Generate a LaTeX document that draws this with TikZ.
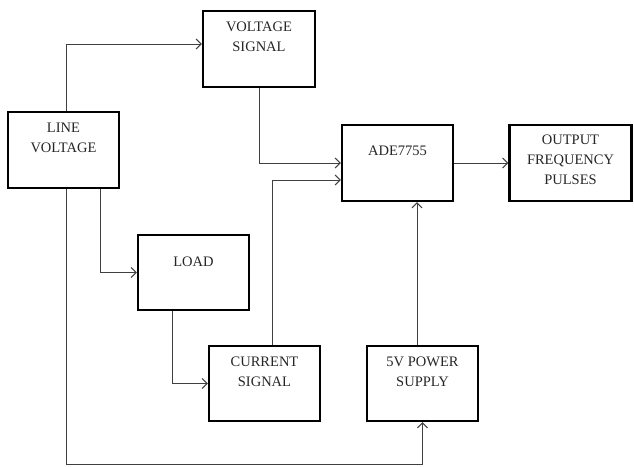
\documentclass[tikz,border=0pt]{standalone}
\usepackage{fontspec}
\setmainfont{Liberation Serif}
\usetikzlibrary{arrows.meta,positioning}
\begin{document}
\begin{tikzpicture}[x=1pt,y=-1pt,
  blk/.style={draw=black,line width=2.4pt,rectangle,minimum height=76pt,inner sep=0pt},
  txt/.style={inner sep=0pt,align=center,font=\fontsize{14.5}{20}\selectfont,text=black!85},
  arr/.style={draw=black!75,line width=1pt,-{Straight Barb[length=5pt,width=10pt,line width=1pt]}}]
\useasboundingbox (0,0) rectangle (634,466);
% boxes
\node[blk,minimum width=111pt] (line) at (63.5,150) {};
\node[blk,minimum width=112pt] (vsig) at (259,49) {};
\node[blk,minimum width=111pt] (ade) at (397.5,163) {};
\node[blk,minimum width=122pt] (out) at (570.5,163) {};
\node[blk,minimum width=111pt,minimum height=75pt] (load) at (193.5,272.5) {};
\node[blk,minimum width=111pt,minimum height=75pt] (cur) at (264.5,383.5) {};
\node[blk,minimum width=111pt,minimum height=75pt] (psu) at (422.5,383.5) {};
% texts
\node[txt,below=12pt of line.north] (lineT) {LINE\\VOLTAGE};
\node[txt,below=12pt of vsig.north] (vsigT) {VOLTAGE\\SIGNAL};
\node[txt,below=22pt of ade.north] (adeT) {ADE7755};
\node[txt,below=11pt of out.north] (outT) {OUTPUT\\FREQUENCY\\PULSES};
\node[txt,below=23pt of load.north] (loadT) {LOAD};
\node[txt,below=12pt of cur.north] (curT) {CURRENT\\SIGNAL};
\node[txt,below=12pt of psu.north] (psuT) {5V POWER\\SUPPLY};
% connectors
\coordinate (bot) at (0,464);
\draw[arr] ([xshift=2.5pt]line.north) |- ([yshift=5pt]vsig.west);
\draw[arr] (vsig.south) |- (ade.west);
\draw[arr] ([xshift=7.5pt]cur.north) |- ([yshift=-17pt]ade.west);
\draw[arr] (ade.east) -- (out.west);
\draw[arr] ([xshift=-5.5pt]psu.north) -- ([xshift=-5.5pt]psu.north |- ade.south);
\draw[arr] ([xshift=2.5pt]line.south) -- ([xshift=2.5pt]line.south |- bot) -| (psu.south);
\draw[arr] ([xshift=36.5pt]line.south) |- (load.west);
\draw[arr] ([xshift=-21.5pt]load.south) |- (cur.west);
\end{tikzpicture}
\end{document}
